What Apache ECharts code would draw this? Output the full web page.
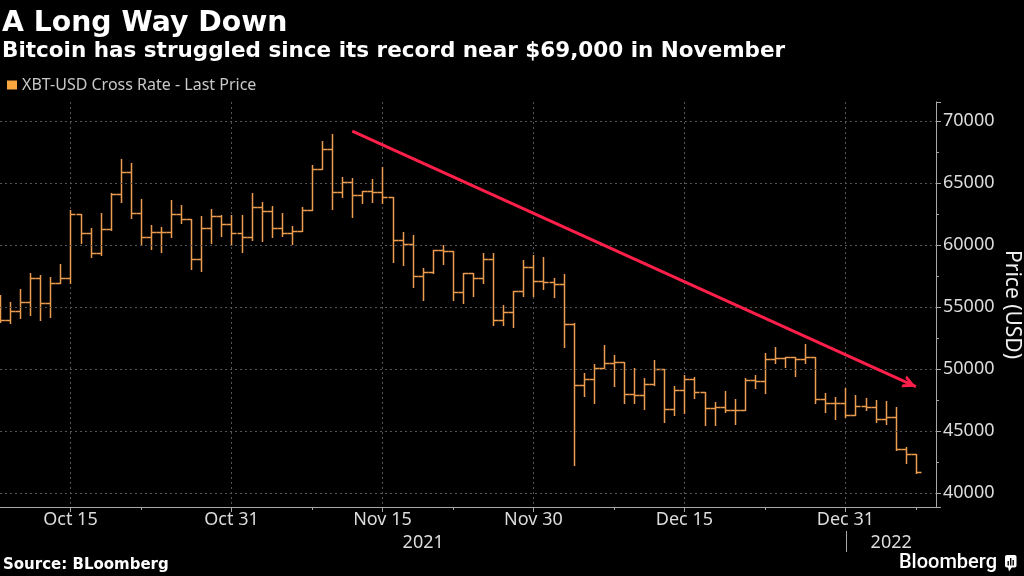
<!DOCTYPE html>
<html><head><meta charset="utf-8">
<script src="https://cdn.jsdelivr.net/npm/echarts@6/dist/echarts.min.js"></script>
<style>html,body{margin:0;padding:0;background:#000;}#c{width:1024px;height:576px;}</style>
</head><body><div id="c"></div>
<script>
const seriesName = 'XBT-USD Cross Rate - Last Price';
const dates = [
'2021-10-08','2021-10-09','2021-10-10','2021-10-11','2021-10-12','2021-10-13','2021-10-14','2021-10-15','2021-10-16','2021-10-17','2021-10-18','2021-10-19','2021-10-20','2021-10-21','2021-10-22','2021-10-23','2021-10-24','2021-10-25','2021-10-26','2021-10-27','2021-10-28','2021-10-29','2021-10-30','2021-10-31',
'2021-11-01','2021-11-02','2021-11-03','2021-11-04','2021-11-05','2021-11-06','2021-11-07','2021-11-08','2021-11-09','2021-11-10','2021-11-11','2021-11-12','2021-11-13','2021-11-14','2021-11-15','2021-11-16','2021-11-17','2021-11-18','2021-11-19','2021-11-20','2021-11-21','2021-11-22','2021-11-23','2021-11-24','2021-11-25','2021-11-26','2021-11-27','2021-11-28','2021-11-29','2021-11-30',
'2021-12-01','2021-12-02','2021-12-03','2021-12-04','2021-12-05','2021-12-06','2021-12-07','2021-12-08','2021-12-09','2021-12-10','2021-12-11','2021-12-12','2021-12-13','2021-12-14','2021-12-15','2021-12-16','2021-12-17','2021-12-18','2021-12-19','2021-12-20','2021-12-21','2021-12-22','2021-12-23','2021-12-24','2021-12-25','2021-12-26','2021-12-27','2021-12-28','2021-12-29','2021-12-30','2021-12-31',
'2022-01-01','2022-01-02','2022-01-03','2022-01-04','2022-01-05','2022-01-06','2022-01-07','2022-01-08','2022-01-09'
];
const opens = [
54400,53980,54700,55400,57340,55370,56980,57390,62500,60970,59360,61340,64110,65940,62630,60690,61100,61050,62500,62100,58870,61420,62360,61690,
60970,60690,63110,62770,61370,60970,61180,62850,66130,67740,64270,65080,64060,64380,64320,63870,60430,60080,57550,57820,59620,59540,56210,57740,57340,58870,53980,54600,56340,58270,
57150,57020,56880,53630,48730,49190,50130,50530,50590,48010,47930,48820,50000,46800,48330,49190,48150,46860,46940,46720,46760,49140,49080,50810,50890,50970,50810,50970,47580,47310,47320,
46310,47040,46980,45970,46180,43570,43150
];
const closes = [
53980,54700,55400,57340,55370,56980,57390,62500,60970,59360,61340,64110,65940,62630,60690,61100,61050,62500,62100,58870,61420,62360,61690,60970,
60690,63110,62770,61370,60970,61180,62850,66130,67740,64270,65080,64060,64380,64320,63870,60430,60080,57550,57820,59620,59540,56210,57740,57340,58870,53980,54600,56340,58270,57150,
57020,56880,53630,48730,49190,50130,50530,50590,48010,47930,48820,50000,46800,48330,49190,48150,46860,46940,46720,46760,49140,49080,50810,50890,50970,50810,50970,47580,47310,47320,46310,
47040,46980,45970,46180,43570,43150,41740
];
const lows = [
53820,53710,54110,54380,53980,54240,56940,56940,60160,59030,59220,61230,63520,62180,60020,59700,59480,60690,61820,58060,57950,60160,60750,60020,
59480,60430,60370,60690,60750,60100,61180,62850,66130,62900,63870,62260,63390,63520,63390,58630,58410,56660,55590,57790,58470,55590,55370,55910,56940,53570,53570,53390,55910,55910,
56450,55810,51770,42280,47850,47260,50080,48650,47310,47310,46770,48730,45770,46320,46500,47660,45510,45510,46580,45590,46720,48470,48070,50530,50160,49460,50480,47310,46580,45970,46130,
46300,46720,45770,45590,43490,42420,41610
];
const highs = [
55990,55450,56450,57790,57600,57470,58490,62850,62500,61370,62580,64190,66940,66610,63710,61640,61450,63650,63230,62100,62360,62900,62440,62440,
62440,64240,63520,63170,62580,61560,63060,66480,68440,68980,65530,65400,64400,65320,66340,63870,61100,60830,58150,59620,60020,59540,57740,57750,59400,59360,55190,56340,58820,59220,
59030,57340,57690,53760,49680,50430,51960,51150,50610,50080,49270,50750,50000,48650,49540,49400,48150,47390,48270,47580,49270,49540,51290,51820,51020,51020,52040,50970,48070,47790,48470,
47930,47660,47520,47470,46980,43710,43170
];
const yGridValues = [40000,45000,50000,55000,60000,65000,70000];
const majorTickDates = ['2021-10-15','2021-10-31','2021-11-15','2021-11-30','2021-12-15','2021-12-31'];
const majorTickLabels = ['Oct 15','Oct 31','Nov 15','Nov 30','Dec 15','Dec 31'];
const minorTickDates = ['2021-10-22','2021-11-08','2021-11-22','2021-12-08','2021-12-23','2022-01-07'];
const yearLabels = ['2021','2022'];
const yearBoundary = '2021-12-31';
const trendStart = ['2021-11-12', 69200];
const trendEnd = ['2022-01-07', 48600];

const barColor = '#ec9c4e';
const ohlc = opens.map((o, i) => [i, o, closes[i], lows[i], highs[i]]);

const chart = echarts.init(document.getElementById('c'));
const chevron = 'path://M10,0 L20,20 L15,20 L10,10 L5,20 L0,20 Z M10,-20';
const mkStyle = () => ({ stroke: barColor, lineWidth: 1.5, fill: null, opacity: 1 });

const option = {
  backgroundColor: '#000',
  animation: false,
  legend: {
    data: [seriesName], left: 7, top: 77, padding: 0, icon: 'rect',
    itemWidth: 10, itemHeight: 9, itemGap: 4, selectedMode: false,
    itemStyle: { color: '#f8a640' },
    textStyle: { color: '#c8c8c8', fontFamily: 'Noto Sans', fontSize: 16 }
  },
  grid: { left: 0, right: 88, top: 102, bottom: 69, containLabel: false, outerBoundsMode: 'none' },
  xAxis: [{
    type: 'category', data: dates, boundaryGap: false,
    axisLine: { lineStyle: { color: '#a8a8a8', width: 1 } },
    axisTick: { interval: (i, v) => majorTickDates.includes(v), length: 5, lineStyle: { color: '#a8a8a8' } },
    axisLabel: {
      interval: (i, v) => majorTickDates.includes(v),
      formatter: v => majorTickLabels[majorTickDates.indexOf(v)] || '',
      color: '#dcdcdc', fontFamily: 'Noto Sans', fontSize: 18, margin: 4
    },
    splitLine: { show: true, interval: (i, v) => majorTickDates.includes(v), lineStyle: { color: '#555', type: [2, 3], width: 1 } }
  }, {
    type: 'category', data: dates, boundaryGap: false, position: 'bottom',
    axisLine: { show: false }, axisLabel: { show: false }, splitLine: { show: false },
    axisTick: { interval: (i, v) => minorTickDates.includes(v), length: 3, lineStyle: { color: '#a8a8a8' } }
  }],
  yAxis: {
    type: 'value', position: 'right', min: 38900, max: 71550, splitNumber: 5,
    axisLine: { show: true, lineStyle: { color: '#a8a8a8', width: 1 } },
    axisTick: { show: true, length: 5, lineStyle: { color: '#a8a8a8' } },
    minorTick: { show: true, splitNumber: 2, length: 3, lineStyle: { color: '#a8a8a8' } },
    axisLabel: { color: '#dcdcdc', fontFamily: 'Noto Sans', fontSize: 18, margin: 7, showMinLabel: false, showMaxLabel: false, formatter: v => String(v) },
    splitLine: { show: false },
    name: 'Price (USD)', nameLocation: 'middle', nameRotate: -90, nameGap: 65, nameMoveOverlap: false,
    nameTextStyle: { color: '#f0f0f0', fontFamily: 'Noto Sans', fontSize: 21 }
  },
  series: [{
    type: 'line', name: 'grid', data: [], silent: true, z: 1,
    markLine: {
      silent: true, symbol: 'none', label: { show: false }, animation: false,
      lineStyle: { color: '#555', type: [2, 3], width: 1 },
      data: yGridValues.map(v => ({ yAxis: v }))
    }
  }, {
    type: 'custom', name: seriesName, data: ohlc, clip: true, z: 2, silent: true,
    encode: { x: 0, y: [1, 2, 3, 4] },
    itemStyle: { color: barColor },
    emphasis: { disabled: true },
    renderItem: (params, api) => {
      const xi = api.value(0);
      const o = api.coord([xi, api.value(1)]);
      const c = api.coord([xi, api.value(2)]);
      const l = api.coord([xi, api.value(3)]);
      const h = api.coord([xi, api.value(4)]);
      const half = api.size([1, 0])[0] / 2;
      const x = Math.round(o[0]) + 0.5;
      const oy = Math.round(o[1]) + 0.5, cy = Math.round(c[1]) + 0.5;
      return { type: 'group', children: [
        { type: 'line', shape: { x1: x, y1: Math.round(h[1]), x2: x, y2: Math.round(l[1]) + 1 }, style: mkStyle() },
        { type: 'line', shape: { x1: x - half, y1: oy, x2: x, y2: oy }, style: mkStyle() },
        { type: 'line', shape: { x1: x, y1: cy, x2: x + half, y2: cy }, style: mkStyle() }
      ]};
    }
  }, {
    type: 'line', name: 'trend', data: [], silent: true, z: 3,
    markLine: {
      silent: true, animation: false, symbol: ['none', chevron], symbolSize: [13, 26],
      label: { show: false },
      lineStyle: { color: '#ff1f4b', width: 3, type: 'solid' },
      data: [[{ coord: trendStart }, { coord: trendEnd }]]
    }
  }],
  graphic: [
    { id: 't1', type: 'text', x: 2, y: 24, style: { text: 'A Long Way Down', fill: '#fff', font: 'bold 28.3px "DejaVu Sans"', verticalAlign: 'middle' } },
    { id: 't2', type: 'text', x: 2, y: 51, style: { text: 'Bitcoin has struggled since its record near $69,000 in November', fill: '#fff', font: 'bold 21.5px "DejaVu Sans"', verticalAlign: 'middle' } },
    { id: 'src', type: 'text', x: 3, y: 565, style: { text: 'Source: BLoomberg', fill: '#fff', font: 'bold 15px "DejaVu Sans"', verticalAlign: 'middle' } },
    { id: 'bb', type: 'text', x: 997, y: 563, style: { text: 'Bloomberg', fill: '#fff', font: '500 20px Roboto', align: 'right', verticalAlign: 'middle' } },
    { id: 'icon', type: 'group', x: 1005, y: 555, children: [
      { type: 'rect', shape: { x: 0, y: 0, width: 11.5, height: 12.5, r: 2 }, style: { fill: '#fff' } },
      { type: 'polygon', shape: { points: [[3, 12], [7, 12], [4, 16.5]] }, style: { fill: '#fff' } },
      { type: 'rect', shape: { x: 2.5, y: 6, width: 1.4, height: 4.5 }, style: { fill: '#000' } },
      { type: 'rect', shape: { x: 5, y: 3, width: 1.4, height: 7.5 }, style: { fill: '#000' } },
      { type: 'rect', shape: { x: 7.5, y: 5, width: 1.4, height: 5.5 }, style: { fill: '#000' } }
    ]}
  ]
};
chart.setOption(option);

const xLeft = chart.convertToPixel({ xAxisIndex: 0 }, dates[0]);
const xRight = chart.convertToPixel({ xAxisIndex: 0 }, dates[dates.length - 1]);
const xb = chart.convertToPixel({ xAxisIndex: 0 }, yearBoundary) + 1;
chart.setOption({ graphic: [
  { id: 'y1', type: 'text', x: (xLeft + xb) / 2, y: 543, style: { text: yearLabels[0], fill: '#dcdcdc', font: '18px "Noto Sans"', align: 'center', verticalAlign: 'middle' } },
  { id: 'y2', type: 'text', x: (xb + xRight) / 2, y: 543, style: { text: yearLabels[1], fill: '#dcdcdc', font: '18px "Noto Sans"', align: 'center', verticalAlign: 'middle' } },
  { id: 'sep', type: 'line', shape: { x1: Math.round(xb) + 0.5, y1: 531, x2: Math.round(xb) + 0.5, y2: 552 }, style: { stroke: '#a8a8a8', lineWidth: 1 } }
]});
</script>
</body></html>
